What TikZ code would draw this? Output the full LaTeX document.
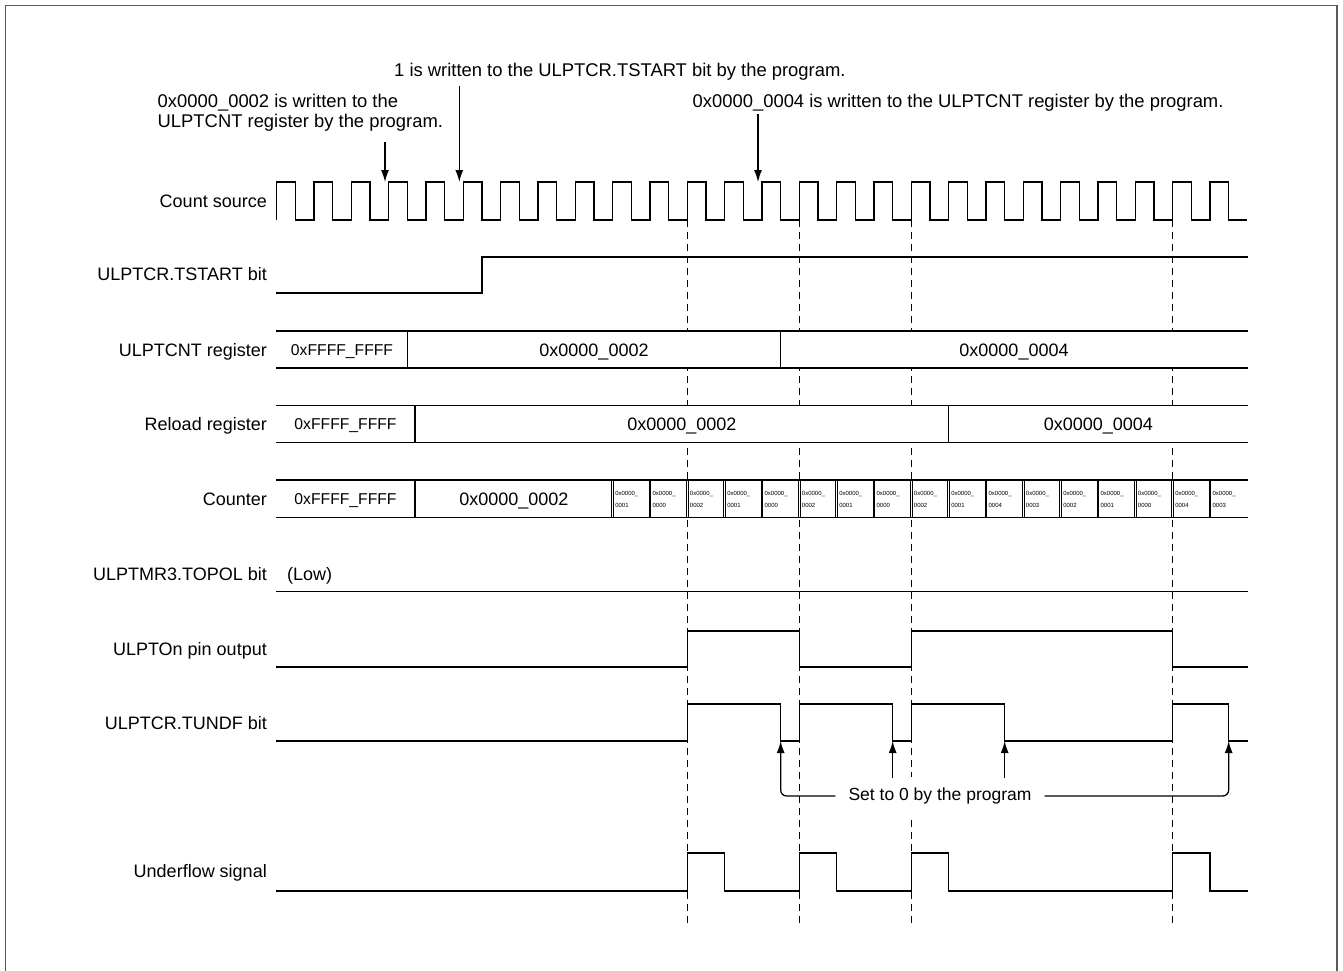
\documentclass[tikz,border=0pt]{standalone}
\usepackage{fontspec}
\setmainfont{Liberation Sans}
\usetikzlibrary{arrows.meta}
\tikzset{
 lbl/.style={anchor=base east, font=\fontsize{18}{21}\selectfont, inner sep=0pt},
 val/.style={anchor=base, font=\fontsize{18}{21}\selectfont, inner sep=0pt},
 valf/.style={anchor=base, font=\fontsize{15.7}{18}\selectfont, inner sep=0pt},
 celltxt/.style={anchor=base west, font=\fontsize{6}{7}\selectfont, inner sep=0pt},
 ann/.style={anchor=base west, font=\fontsize{18.4}{21}\selectfont, inner sep=0pt},
 wave/.style={line width=1.3pt, line join=miter},
 regline/.style={line width=1.5pt},
 celldiv/.style={line width=0.9pt},
 dashv/.style={dash pattern=on 7pt off 5pt, line width=1.2pt},
 arr/.style={line width=1.3pt, -{Latex[length=12pt,width=8pt]}},
 frameline/.style={line width=1.6pt, draw={rgb,255:red,90;green,90;blue,90}},
}
\begin{document}
\begin{tikzpicture}[x=1pt,y=-1pt]
\useasboundingbox (0,0) rectangle (1343,971);
% frame
\draw[frameline] (5.5,975) -- (5.5,5.5) -- (1337,5.5) -- (1337,975);

% dashed guide lines
\foreach \xx in {687.333,799.333,911.333,1172.667}
  \draw[dashv] (\xx,220) -- (\xx,927);

% labels
\node[lbl] (lclk)   at (267,207.5) {Count source};
\node[lbl] (ltst)   at (267,280.7) {ULPTCR.TSTART bit};
\node[lbl] (lcnt)   at (267,356.7) {ULPTCNT register};
\node[lbl] (lrel)   at (267,430.7) {Reload register};
\node[lbl] (lctr)   at (267,505.7) {Counter};
\node[lbl] (ltopol) at (267,580)   {ULPTMR3.TOPOL bit};
\node[lbl] (lout)   at (267,655)   {ULPTOn pin output};
\node[lbl] (ltundf) at (267,729)   {ULPTCR.TUNDF bit};
\node[lbl] (luf)    at (267,877.3) {Underflow signal};

% count source clock
\draw[wave] (276.667,220) \foreach \k in {0,...,25}{ -- ++(0,-38) -- ++(18.667,0) -- ++(0,38) -- ++(18.667,0)};

% TSTART
\draw[wave] (276,293) -- (482,293) -- (482,257) -- (1248,257);

% ULPTCNT register
\fill[white] (276,331) rectangle (1248,368);
\draw[regline] (276,331) -- (1248,331) (276,368) -- (1248,368);
\draw[regline] (407.333,331) -- (407.333,368) (780.667,331) -- (780.667,368);
\node[valf] (cnt0) at (342,355.3) {0xFFFF\_FFFF};
\node[val]  (cnt1) at (594,356)   {0x0000\_0002};
\node[val]  (cnt2) at (1014,356)  {0x0000\_0004};

% Reload register
\fill[white] (276,405.7) rectangle (1248,442.7);
\draw[regline] (276,405.7) -- (1248,405.7) (276,442.7) -- (1248,442.7);
\draw[regline] (415,405.7) -- (415,442.7) (948.667,405.7) -- (948.667,442.7);
\node[valf] (rel0) at (345.5,429.8) {0xFFFF\_FFFF};
\node[val]  (rel1) at (681.8,430.5) {0x0000\_0002};
\node[val]  (rel2) at (1098.3,430.5) {0x0000\_0004};

% Counter
\fill[white] (276,480) rectangle (1248,517.3);
\draw[regline] (276,480) -- (1248,480) (276,517.3) -- (1248,517.3);
\draw[regline] (415,480) -- (415,517.3);
\node[valf] (ctr0) at (345.5,504.3) {0xFFFF\_FFFF};
\node[val]  (ctr1) at (513.8,505)   {0x0000\_0002};
\foreach \v [count=\j from 0] in {0001,0000,0002,0001,0000,0002,0001,0000,0002,0001,0004,0003,0002,0001,0000,0004,0003}{
  \pgfmathsetmacro{\cx}{612.667+37.333*\j}
  \draw[celldiv] (\cx-0.9,480) -- (\cx-0.9,517.3) (\cx+0.9,480) -- (\cx+0.9,517.3);
  \node[celltxt] (ca\j) at (\cx+2.4,495.2) {0x0000\_};
  \node[celltxt] (cb\j) at (\cx+2.4,507) {\v};
}

% TOPOL
\draw[wave] (276,591.7) -- (1248,591.7);
\node[anchor=base west, font=\fontsize{18}{21}\selectfont, inner sep=0pt] (low) at (287,580) {(Low)};

% ULPTOn pin output
\draw[wave] (276,667) -- (687.333,667) -- (687.333,631) -- (799.333,631) -- (799.333,667)
  -- (911.333,667) -- (911.333,631) -- (1172.667,631) -- (1172.667,667) -- (1248,667);

% TUNDF
\draw[wave] (276,741) -- (687.333,741) -- (687.333,704) -- (780.667,704) -- (780.667,741)
  -- (799.333,741) -- (799.333,704) -- (892.667,704) -- (892.667,741)
  -- (911.333,741) -- (911.333,704) -- (1004.667,704) -- (1004.667,741)
  -- (1172.667,741) -- (1172.667,704) -- (1228.667,704) -- (1228.667,741) -- (1248,741);

% Underflow signal
\draw[wave] (276,891) -- (687.333,891) -- (687.333,853) -- (724.667,853) -- (724.667,891)
  -- (799.333,891) -- (799.333,853) -- (836.667,853) -- (836.667,891)
  -- (911.333,891) -- (911.333,853) -- (948.667,853) -- (948.667,891)
  -- (1172.667,891) -- (1172.667,853) -- (1210,853) -- (1210,891) -- (1248,891);

% Set to 0 by the program
\node[font=\fontsize{17.5}{20}\selectfont, fill=white, inner xsep=13pt, inner ysep=11pt] (setz) at (940,796) {Set to 0 by the program};
\coordinate (t1) at (780.667,741);
\coordinate (t2) at (892.667,741);
\coordinate (t3) at (1004.667,741);
\coordinate (t4) at (1228.667,741);
\coordinate (m2) at (892.667,778);
\coordinate (m3) at (1004.667,778);
\draw[arr, rounded corners=6pt] (setz.west) -| (t1);
\draw[arr, rounded corners=6pt] (setz.east) -| (t4);
\draw[arr] (m2) -- (t2);
\draw[arr] (m3) -- (t3);

% annotations
\node[ann] (ann1)  at (394,77)  {1 is written to the ULPTCR.TSTART bit by the program.};
\node[ann] (ann2a) at (157.5,108) {0x0000\_0002 is written to the};
\node[ann] (ann2b) at (157.5,128) {ULPTCNT register by the program.};
\node[ann] (ann3)  at (692.5,108) {0x0000\_0004 is written to the ULPTCNT register by the program.};
\coordinate (a1s) at (459.3,86);
\coordinate (a1e) at (459.3,182);
\coordinate (a2s) at (385,142);
\coordinate (a2e) at (385,182);
\coordinate (a3s) at (758,114);
\coordinate (a3e) at (758,182);
\draw[arr] (a1s) -- (a1e);
\draw[arr] (a2s) -- (a2e);
\draw[arr] (a3s) -- (a3e);
\end{tikzpicture}
\end{document}
